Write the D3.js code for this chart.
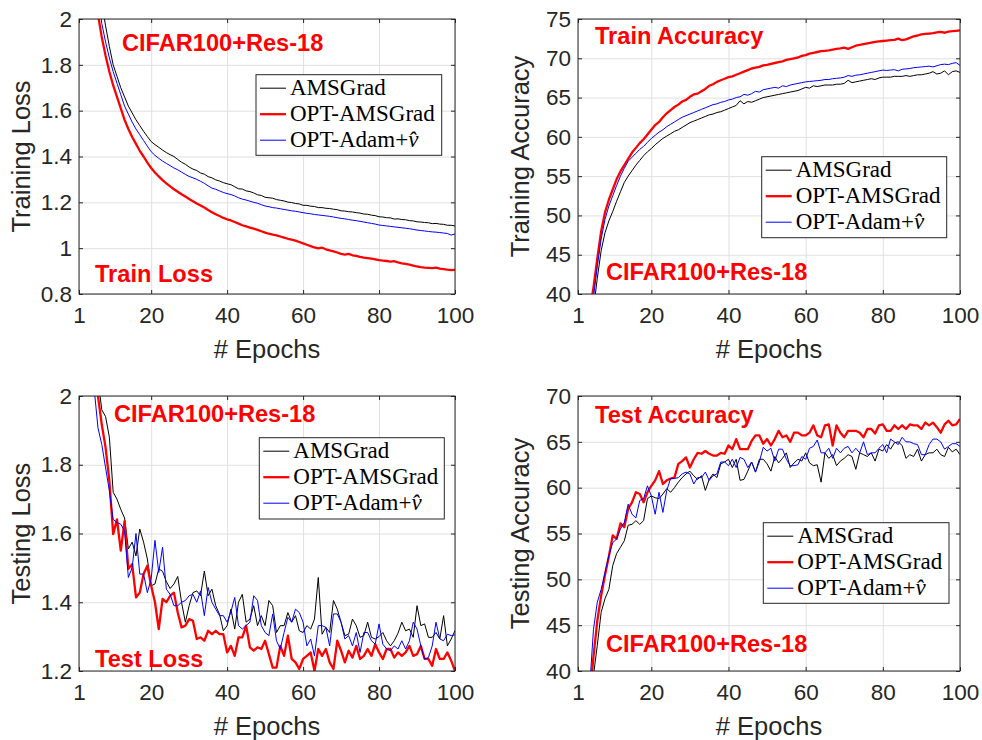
<!DOCTYPE html>
<html>
<head>
<meta charset="utf-8">
<script src="https://cdn.jsdelivr.net/npm/d3@7"></script>
<style>
  body { margin: 0; background: #fff; }
  svg { display: block; }
</style>
</head>
<body>
<div id="chart"></div>
<script>
// epochs 1..100 on every x axis
const epochs = d3.range(1, 101);
const xTicks = [1, 20, 40, 60, 80, 100];
const seriesNames = ["AMSGrad", "OPT-AMSGrad", "OPT-Adam+"];

// Training loss
const trainLossAms = [
  4.0, 3.4, 3.0, 2.7, 2.45, 2.25, 2.07, 1.97, 1.88, 1.80,
  1.75, 1.70, 1.66, 1.62, 1.59, 1.56, 1.535, 1.51, 1.487, 1.465,
  1.452, 1.44, 1.428, 1.417, 1.408, 1.40, 1.387, 1.375, 1.366, 1.354,
  1.345, 1.339, 1.328, 1.323, 1.312, 1.307, 1.298, 1.293, 1.286, 1.281,
  1.277, 1.268, 1.259, 1.258, 1.25, 1.247, 1.241, 1.233, 1.23, 1.222,
  1.22, 1.218, 1.212, 1.209, 1.206, 1.201, 1.199, 1.195, 1.193, 1.187,
  1.187, 1.183, 1.182, 1.177, 1.177, 1.174, 1.173, 1.17, 1.168, 1.163,
  1.162, 1.159, 1.158, 1.155, 1.153, 1.149, 1.148, 1.144, 1.142, 1.137,
  1.136, 1.133, 1.132, 1.127, 1.128, 1.125, 1.124, 1.12, 1.119, 1.115,
  1.114, 1.112, 1.111, 1.107, 1.108, 1.105, 1.104, 1.1, 1.1, 1.097
];
const trainLossOptAms = [
  3.6, 3.1, 2.7, 2.4, 2.18, 2.02, 1.92, 1.84, 1.77, 1.71,
  1.66, 1.61, 1.56, 1.52, 1.485, 1.455, 1.425, 1.40, 1.373, 1.35,
  1.33, 1.313, 1.297, 1.283, 1.27, 1.257, 1.246, 1.235, 1.225, 1.215,
  1.205, 1.195, 1.186, 1.177, 1.167, 1.157, 1.148, 1.14, 1.132, 1.126,
  1.121, 1.114, 1.107, 1.1, 1.095, 1.09, 1.085, 1.08, 1.074, 1.068,
  1.063, 1.059, 1.056, 1.051, 1.046, 1.041, 1.037, 1.033, 1.027, 1.021,
  1.015, 1.009, 1.003, 0.999, 1.002, 0.995, 0.99, 0.986, 0.981, 0.975,
  0.972, 0.975, 0.969, 0.966, 0.962, 0.959, 0.957, 0.954, 0.951, 0.948,
  0.946, 0.944, 0.941, 0.943, 0.938, 0.934, 0.931, 0.928, 0.924, 0.92,
  0.917, 0.915, 0.914, 0.913, 0.915, 0.911, 0.909, 0.906, 0.904, 0.905
];
const trainLossOptAdam = [
  3.8, 3.2, 2.85, 2.55, 2.3, 2.12, 1.98, 1.90, 1.83, 1.77,
  1.72, 1.67, 1.62, 1.585, 1.55, 1.52, 1.495, 1.47, 1.445, 1.421,
  1.405, 1.392, 1.38, 1.37, 1.36, 1.35, 1.342, 1.332, 1.322, 1.313,
  1.307, 1.30, 1.292, 1.283, 1.272, 1.262, 1.257, 1.25, 1.243, 1.238,
  1.234, 1.228, 1.22, 1.214, 1.21, 1.205, 1.2, 1.196, 1.19, 1.184,
  1.181, 1.177, 1.175, 1.172, 1.169, 1.166, 1.163, 1.161, 1.158, 1.155,
  1.152, 1.15, 1.147, 1.145, 1.143, 1.141, 1.139, 1.136, 1.133, 1.13,
  1.128, 1.125, 1.122, 1.12, 1.117, 1.114, 1.111, 1.108, 1.105, 1.101,
  1.099, 1.097, 1.095, 1.093, 1.091, 1.089, 1.087, 1.085, 1.082, 1.079,
  1.077, 1.075, 1.073, 1.071, 1.07, 1.068, 1.066, 1.064, 1.057, 1.062
];

// Training accuracy
const trainAccAms = [
  15, 24, 30, 34.5, 38, 42, 45.5, 47.8, 49.3, 50.5,
  51.8, 53.0, 54.2, 55.0, 55.7, 56.4, 57.0, 57.6, 58.1, 58.5,
  59.0, 59.4, 59.8, 60.1, 60.4, 60.7, 60.9, 61.2, 61.5, 61.8,
  62.0, 62.2, 62.4, 62.6, 62.8, 62.9, 63.1, 63.2, 63.4, 63.6,
  63.8, 64.0, 64.6, 64.2, 64.5, 64.4, 64.6, 64.8, 65.0, 65.1,
  65.2, 65.3, 65.4, 65.5, 65.6, 65.7, 65.8, 65.9, 66.1, 66.3,
  66.2, 66.5, 66.4, 66.5, 66.6, 66.6, 66.6, 66.7, 66.7, 66.8,
  67.2, 66.9, 67.0, 67.1, 67.2, 67.3, 67.4, 67.3, 67.5, 67.6,
  67.6, 67.6, 67.7, 67.7, 67.7, 67.8, 67.7, 67.8, 67.9, 67.9,
  68.0, 68.1, 68.3, 68.0, 68.1, 68.4, 67.9, 68.3, 68.4, 68.2
];
const trainAccOptAms = [
  20, 28, 33, 37.5, 40.8, 44.5, 48.0, 50.4, 52.0, 53.3,
  54.6, 55.6, 56.4, 57.2, 58.0, 58.6, 59.2, 59.7, 60.3, 60.9,
  61.5, 61.9, 62.5, 63.0, 63.4, 63.8, 64.1, 64.5, 64.7, 65.1,
  65.4, 65.5, 65.8, 66.1, 66.5, 66.7, 67.0, 67.2, 67.4, 67.6,
  67.7, 67.9, 68.1, 68.3, 68.5, 68.7, 68.8, 68.9, 69.1, 69.15,
  69.3, 69.4, 69.5, 69.6, 69.8, 69.9, 70.0, 70.1, 70.3, 70.4,
  70.6, 70.7, 70.8, 70.9, 70.95, 71.0, 71.1, 71.2, 71.25, 71.35,
  71.2, 71.4, 71.6, 71.7, 71.8, 71.9, 72.0, 72.1, 72.15, 72.2,
  72.25, 72.3, 72.35, 72.5, 72.3, 72.4, 72.6, 72.8, 72.9, 73.05,
  73.1, 73.15, 73.2, 73.3, 73.35, 73.25, 73.4, 73.45, 73.5, 73.55
];
const trainAccOptAdam = [
  18, 26, 31, 36, 39.5, 43.5, 47.0, 49.5, 51.2, 52.5,
  53.8, 55.0, 56.0, 56.9, 57.4, 57.9, 58.4, 58.8, 59.3, 59.8,
  60.2, 60.6, 60.9, 61.3, 61.6, 61.9, 62.2, 62.5, 62.7, 62.9,
  63.1, 63.3, 63.5, 63.7, 63.9, 64.1, 64.2, 64.4, 64.5, 64.7,
  64.8, 65.0, 65.1, 65.4, 65.3, 65.5, 65.8, 65.7, 66.0, 66.1,
  66.2, 66.3, 66.2, 66.5, 66.4, 66.6, 66.7, 66.8, 66.9, 67.0,
  67.05, 67.1, 67.15, 67.2, 67.3, 67.3, 67.4, 67.45, 67.5, 67.6,
  67.8, 67.7, 67.85, 67.9, 68.0, 68.1, 68.2, 68.3, 68.4, 68.5,
  68.45, 68.5, 68.55, 68.4, 68.6, 68.65, 68.7, 68.8, 68.85, 68.9,
  68.95, 69.0, 68.9, 69.05, 69.2, 69.25, 69.2, 69.35, 69.45, 69.1
];

// Testing loss
const testLossAms = [
  3.6, 3.0, 2.6, 2.35, 2.15, 2.05, 1.96, 1.94, 1.88, 1.72,
  1.70, 1.67, 1.645, 1.555, 1.575, 1.535, 1.613, 1.575, 1.526, 1.448,
  1.453, 1.497, 1.49, 1.46, 1.44, 1.453, 1.475, 1.40, 1.342, 1.39,
  1.428, 1.433, 1.419, 1.491, 1.419, 1.438, 1.39, 1.365, 1.317, 1.332,
  1.38, 1.322, 1.40, 1.423, 1.342, 1.351, 1.39, 1.332, 1.361, 1.332,
  1.405, 1.39, 1.312, 1.332, 1.332, 1.37, 1.342, 1.361, 1.317, 1.312,
  1.332, 1.322, 1.351, 1.472, 1.307, 1.327, 1.312, 1.405, 1.38, 1.342,
  1.303, 1.307, 1.351, 1.332, 1.298, 1.303, 1.342, 1.298, 1.293, 1.30,
  1.312, 1.288, 1.273, 1.288, 1.31, 1.342, 1.317, 1.322, 1.298, 1.39,
  1.332, 1.337, 1.298, 1.298, 1.312, 1.293, 1.361, 1.273, 1.293, 1.318
];
const testLossOptAms = [
  3.4, 2.8, 2.45, 2.2, 2.07, 2.0, 1.917, 1.85, 1.753, 1.598,
  1.641, 1.55, 1.636, 1.497, 1.511, 1.414, 1.428, 1.482, 1.506, 1.448,
  1.40, 1.322, 1.41, 1.40, 1.419, 1.428, 1.37, 1.327, 1.332, 1.351,
  1.346, 1.293, 1.298, 1.288, 1.317, 1.307, 1.317, 1.307, 1.307, 1.254,
  1.273, 1.244, 1.298, 1.298, 1.332, 1.269, 1.259, 1.269, 1.264, 1.288,
  1.249, 1.21, 1.21, 1.273, 1.244, 1.303, 1.235, 1.225, 1.206, 1.235,
  1.244, 1.254, 1.20, 1.264, 1.244, 1.264, 1.225, 1.206, 1.288, 1.259,
  1.225, 1.259, 1.239, 1.273, 1.235, 1.244, 1.264, 1.244, 1.278, 1.254,
  1.235, 1.264, 1.264, 1.239, 1.254, 1.244, 1.254, 1.273, 1.244, 1.249,
  1.273, 1.235, 1.235, 1.215, 1.264, 1.235, 1.235, 1.254, 1.23, 1.2
];
const testLossOptAdam = [
  3.3, 2.7, 2.35, 2.12, 2.02, 1.907, 1.859, 1.791, 1.724, 1.641,
  1.632, 1.627, 1.607, 1.472, 1.501, 1.60, 1.482, 1.482, 1.428, 1.468,
  1.58, 1.487, 1.56, 1.438, 1.423, 1.39, 1.39, 1.40, 1.405, 1.419,
  1.423, 1.40, 1.433, 1.361, 1.443, 1.40, 1.38, 1.361, 1.361, 1.342,
  1.372, 1.414, 1.332, 1.322, 1.332, 1.342, 1.419, 1.405, 1.332, 1.312,
  1.303, 1.366, 1.288, 1.264, 1.312, 1.356, 1.342, 1.38, 1.37, 1.342,
  1.273, 1.293, 1.244, 1.332, 1.332, 1.327, 1.273, 1.366, 1.366, 1.342,
  1.293, 1.303, 1.273, 1.312, 1.254, 1.312, 1.312, 1.288, 1.278, 1.337,
  1.278, 1.264, 1.259, 1.273, 1.264, 1.288, 1.264, 1.288, 1.342, 1.322,
  1.273, 1.235, 1.239, 1.273, 1.342, 1.293, 1.288, 1.307, 1.303, 1.305
];

// Testing accuracy
const testAccAms = [
  12, 22, 30, 35, 39.5, 42.8, 46.4, 47.9, 48.9, 51.5,
  52.8, 53.5, 54.2, 55.9, 56.0, 56.4, 56.0, 56.4, 58.8, 59.1,
  58.9, 58.8, 59.3, 59.9, 59.5, 60.0, 60.6, 61.1, 61.5, 61.8,
  61.3, 60.9, 61.3, 59.7, 60.9, 61.5, 61.1, 62.6, 62.8, 63.1,
  62.2, 63.1, 60.8, 60.9, 61.8, 62.8, 61.7, 63.1, 63.1, 62.6,
  61.8, 63.4, 62.7, 63.2, 63.8, 62.2, 62.7, 63.1, 62.9, 63.8,
  62.7, 62.4, 62.5, 60.6, 63.8, 63.2, 63.6, 62.4, 62.9, 63.2,
  63.6, 63.4, 62.0, 63.8, 63.6, 63.4, 63.8, 62.9, 64.2, 64.0,
  64.7, 64.2, 64.9, 65.0, 64.6, 63.2, 63.6, 63.4, 64.2, 62.9,
  63.6, 63.8, 63.8, 64.2, 63.6, 63.4, 64.4, 63.9, 64.2, 63.6
];
const testAccOptAms = [
  15, 25, 32, 37, 41.5, 45.5, 48.2, 50.5, 52.5, 54.8,
  54.4, 56.1, 55.7, 57.7, 58.4, 59.5, 59.3, 58.4, 59.5, 60.2,
  60.8, 61.8, 60.4, 60.8, 61.0, 61.1, 62.6, 62.9, 63.3, 62.2,
  63.1, 63.8, 63.7, 64.0, 63.7, 63.5, 63.5, 63.8, 63.7, 64.6,
  64.2, 65.3, 64.2, 64.2, 64.2, 65.1, 65.7, 65.7, 64.8, 65.3,
  64.6, 65.3, 66.2, 65.5, 65.7, 65.0, 66.0, 66.0, 65.7, 65.7,
  66.0, 66.8, 65.7, 65.5, 66.8, 66.9, 64.6, 66.8, 66.0, 65.5,
  66.2, 66.2, 66.2, 66.0, 65.5, 66.4, 66.4, 65.9, 66.8, 66.9,
  66.2, 66.2, 66.8, 66.4, 66.8, 66.4, 66.9, 66.8, 66.8, 66.4,
  67.1, 66.8, 67.1, 66.6, 66.0, 66.9, 67.3, 66.8, 66.9, 67.5
];
const testAccOptAdam = [
  14, 24, 32, 38, 44.5, 47.5, 48.9, 50.7, 52.6, 54.0,
  54.4, 55.5, 56.2, 58.2, 57.1, 56.7, 58.6, 58.8, 60.2, 59.1,
  57.1, 59.5, 57.3, 59.7, 61.0, 61.0, 61.1, 61.5, 61.7, 61.5,
  60.4, 61.1, 61.1, 61.7, 60.8, 61.3, 61.5, 62.8, 62.8, 62.4,
  63.1, 62.2, 63.3, 63.1, 62.2, 62.8, 61.7, 62.8, 64.4, 64.0,
  64.3, 62.9, 64.2, 64.2, 63.1, 62.4, 62.4, 62.5, 63.4, 63.1,
  64.3, 64.5, 65.2, 63.8, 63.8, 64.3, 63.2, 64.3, 63.8, 64.3,
  64.5, 63.8, 64.3, 63.8, 65.0, 63.6, 63.8, 63.8, 64.3, 64.7,
  63.8, 65.3, 65.0, 64.7, 65.5, 65.0, 65.0, 64.8, 64.7, 63.6,
  63.6, 64.7, 65.3, 65.3, 65.0, 64.2, 64.5, 64.8, 64.8, 64.5
];

const lossTicks = [0.8, 1, 1.2, 1.4, 1.6, 1.8, 2];
const trainAccTicks = [40, 45, 50, 55, 60, 65, 70, 75];
const testLossTicks = [1.2, 1.4, 1.6, 1.8, 2];
const testAccTicks = [40, 45, 50, 55, 60, 65, 70];

const width = 982;
const height = 740;
const colors = ["#000000", "#ff0000", "#0000ff"];
const strokeWidths = [1, 2.3, 1];
const axisColor = "#262626";
const gridColor = "#e0e0e0";
const sansFont = "'Liberation Sans', Arial, Helvetica, sans-serif";
const serifFont = "'Liberation Serif', 'Times New Roman', serif";

const panels = [
  {
    box: { left: 79, top: 19, right: 455, bottom: 294 },
    yDomain: [0.8, 2], yTicks: lossTicks, yLabel: "Training Loss",
    series: [trainLossAms, trainLossOptAms, trainLossOptAdam],
    notes: [
      { text: "CIFAR100+Res-18", x: 122, y: 50.5 },
      { text: "Train Loss", x: 95, y: 281.5 },
    ],
    legend: { x: 256, y: 74.7, w: 185.7, h: 80.6 },
  },
  {
    box: { left: 578, top: 19, right: 960, bottom: 294 },
    yDomain: [40, 75], yTicks: trainAccTicks, yLabel: "Training Accuracy",
    series: [trainAccAms, trainAccOptAms, trainAccOptAdam],
    notes: [
      { text: "Train Accuracy", x: 595, y: 44.3 },
      { text: "CIFAR100+Res-18", x: 606, y: 280 },
    ],
    legend: { x: 761.7, y: 156.7, w: 185, h: 81 },
  },
  {
    box: { left: 79, top: 396, right: 455, bottom: 671 },
    yDomain: [1.2, 2], yTicks: testLossTicks, yLabel: "Testing Loss",
    series: [testLossAms, testLossOptAms, testLossOptAdam],
    notes: [
      { text: "CIFAR100+Res-18", x: 114, y: 422.3 },
      { text: "Test Loss", x: 95, y: 666.5 },
    ],
    legend: { x: 259.3, y: 437.7, w: 185, h: 81.3 },
  },
  {
    box: { left: 578, top: 396, right: 960, bottom: 671 },
    yDomain: [40, 70], yTicks: testAccTicks, yLabel: "Testing Accuracy",
    series: [testAccAms, testAccOptAms, testAccOptAdam],
    notes: [
      { text: "Test Accuracy", x: 595, y: 423.3 },
      { text: "CIFAR100+Res-18", x: 606, y: 652.3 },
    ],
    legend: { x: 763.3, y: 522.7, w: 185.7, h: 80.6 },
  },
];

const svg = d3.select("#chart")
  .append("svg")
  .attr("width", width)
  .attr("height", height)
  .style("background", "#fff");

panels.forEach((p, idx) => {
  const { left, top, right, bottom } = p.box;
  const x = d3.scaleLinear().domain([1, 100]).range([left, right]);
  const y = d3.scaleLinear().domain(p.yDomain).range([bottom, top]);
  const g = svg.append("g");

  // grid
  g.append("g")
    .attr("transform", `translate(0,${bottom})`)
    .call(d3.axisBottom(x).tickValues(xTicks).tickSize(-(bottom - top)).tickFormat(""))
    .call((s) => s.select(".domain").remove())
    .call((s) => s.selectAll("line").attr("stroke", gridColor).attr("stroke-width", 1));
  g.append("g")
    .attr("transform", `translate(${left},0)`)
    .call(d3.axisLeft(y).tickValues(p.yTicks).tickSize(-(right - left)).tickFormat(""))
    .call((s) => s.select(".domain").remove())
    .call((s) => s.selectAll("line").attr("stroke", gridColor).attr("stroke-width", 1));

  // curves
  const clipId = `clip-${idx}`;
  svg.append("clipPath").attr("id", clipId)
    .append("rect")
    .attr("x", left).attr("y", top)
    .attr("width", right - left).attr("height", bottom - top);

  const line = d3.line()
    .x((d, i) => x(epochs[i]))
    .y((d) => y(d));

  p.series.forEach((values, s) => {
    g.append("path")
      .datum(values)
      .attr("clip-path", `url(#${clipId})`)
      .attr("fill", "none")
      .attr("stroke", colors[s])
      .attr("stroke-width", strokeWidths[s])
      .attr("stroke-linejoin", "round")
      .attr("d", line);
  });

  // axes with inward ticks on all sides
  const tickLen = 4;
  const styleAxis = (s) => {
    s.select(".domain").remove();
    s.selectAll("line").attr("stroke", axisColor).attr("stroke-width", 1);
    s.selectAll("text")
      .attr("fill", axisColor)
      .style("font-family", sansFont)
      .style("font-size", "22.5px");
  };
  g.append("g")
    .attr("transform", `translate(0,${bottom})`)
    .call(d3.axisBottom(x).tickValues(xTicks).tickSizeInner(-tickLen).tickSizeOuter(0).tickPadding(16))
    .call(styleAxis)
    .call((s) => s.selectAll("text").attr("dy", "0.71em").attr("y", 13));
  g.append("g")
    .attr("transform", `translate(0,${top})`)
    .call(d3.axisTop(x).tickValues(xTicks).tickSizeInner(-tickLen).tickSizeOuter(0).tickFormat(""))
    .call(styleAxis);
  g.append("g")
    .attr("transform", `translate(${left},0)`)
    .call(d3.axisLeft(y).tickValues(p.yTicks).tickSizeInner(-tickLen).tickSizeOuter(0)
      .tickFormat(d3.format("~g")))
    .call(styleAxis)
    .call((s) => s.selectAll("text").attr("x", -7));
  g.append("g")
    .attr("transform", `translate(${right},0)`)
    .call(d3.axisRight(y).tickValues(p.yTicks).tickSizeInner(-tickLen).tickSizeOuter(0).tickFormat(""))
    .call(styleAxis);

  g.append("rect")
    .attr("x", left).attr("y", top)
    .attr("width", right - left).attr("height", bottom - top)
    .attr("fill", "none")
    .attr("stroke", axisColor)
    .attr("stroke-width", 1);

  // axis labels
  g.append("text")
    .attr("x", (left + right) / 2)
    .attr("y", bottom + 64)
    .attr("text-anchor", "middle")
    .attr("fill", axisColor)
    .style("font-family", sansFont)
    .style("font-size", "25.5px")
    .text("# Epochs");
  g.append("text")
    .attr("transform", `translate(${left - 49},${(top + bottom) / 2}) rotate(-90)`)
    .attr("text-anchor", "middle")
    .attr("fill", axisColor)
    .style("font-family", sansFont)
    .style("font-size", "25.5px")
    .text(p.yLabel);

  // red annotations
  p.notes.forEach((n) => {
    g.append("text")
      .attr("x", n.x)
      .attr("y", n.y)
      .attr("fill", "#ff0000")
      .style("font-family", sansFont)
      .style("font-weight", "bold")
      .style("font-size", "23.6px")
      .text(n.text);
  });

  // legend
  const lg = g.append("g").attr("transform", `translate(${p.legend.x},${p.legend.y})`);
  lg.append("rect")
    .attr("width", p.legend.w)
    .attr("height", p.legend.h)
    .attr("fill", "#fff")
    .attr("stroke", axisColor)
    .attr("stroke-width", 1);
  seriesNames.forEach((name, s) => {
    const rowY = 13.5 + s * 26;
    lg.append("line")
      .attr("x1", 4).attr("x2", 30)
      .attr("y1", rowY).attr("y2", rowY)
      .attr("stroke", colors[s])
      .attr("stroke-width", strokeWidths[s]);
    const t = lg.append("text")
      .attr("x", 34)
      .attr("y", rowY + 7)
      .attr("fill", "#000")
      .style("font-family", serifFont)
      .style("font-size", "23px")
      .text(name);
    if (s === 2) {
      t.append("tspan").style("font-style", "italic").text("v\u0302");
    }
  });
});
</script>
</body>
</html>
